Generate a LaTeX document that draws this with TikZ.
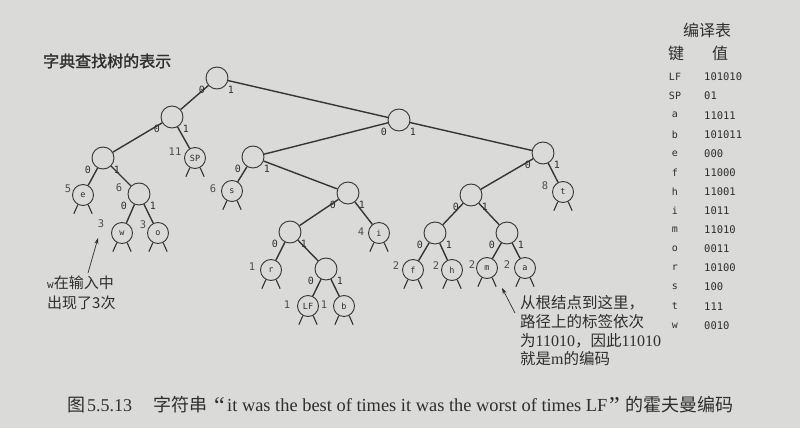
\documentclass[tikz,border=0pt]{standalone}
\usepackage{fontspec}
\setmainfont{Liberation Serif}
\newfontfamily\cjk{Noto Sans CJK SC}
\newfontfamily\cjkb[FakeBold=1.5]{Noto Sans CJK SC}
\newfontfamily\mono{DejaVu Sans Mono}
\usetikzlibrary{arrows.meta}
\definecolor{bg}{HTML}{DADAD8}
\definecolor{ink}{HTML}{353535}
\definecolor{txt}{HTML}{2E2E2E}
\begin{document}
\begin{tikzpicture}[x=1pt,y=-1pt,
  nd/.style={circle,draw=ink,line width=0.9pt,minimum size=22pt,inner sep=0pt,fill=bg,
    font=\mono\fontsize{8.5}{9}\selectfont,text=txt},
  leafnode/.style={nd,minimum size=21pt},
  edge/.style={draw=ink,line width=1.4pt},
  leg/.style={draw=ink,line width=1.1pt},
  elab/.style={font=\mono\fontsize{10}{10}\selectfont,text=txt,inner sep=0pt},
  freq/.style={font=\mono\fontsize{10.5}{10.5}\selectfont,text=txt!85,inner sep=0pt},
  keyc/.style={font=\mono\fontsize{10}{10}\selectfont,text=txt,inner sep=0pt},
  valc/.style={font=\mono\fontsize{10.5}{10.5}\selectfont,text=txt,inner sep=0pt,anchor=west},
  note/.style={anchor=west,inner sep=0pt,text=txt},
  capc/.style={anchor=base west,inner sep=0pt,text=txt,font=\cjk\fontsize{18}{18}\selectfont},
  capl/.style={anchor=base west,inner sep=0pt,text=txt,font=\rmfamily\fontsize{18.4}{18.4}\selectfont},
  pointer/.style={draw=txt,line width=0.7pt,-{Stealth[length=6pt,width=4pt]}}]
\useasboundingbox (0,0) rectangle (800,428);
\fill[bg] (0,0) rectangle (800,428);

% title
\node[note,font=\cjkb\fontsize{16}{16}\selectfont] (title) at (43,61) {字典查找树的表示};

% tree nodes
\node[nd] (r0) at (217,78) {};
\node[nd] (n0) at (172,117) {};
\node[nd] (n00) at (103,158) {};
\node[leafnode] (sp) at (195,158) {SP};
\node[leafnode] (e) at (83,195) {e};
\node[nd] (n001) at (139,194) {};
\node[leafnode] (w) at (122,233) {w};
\node[leafnode] (o) at (158,233) {o};
\node[nd] (n1) at (399,120) {};
\node[nd] (n10) at (253,157) {};
\node[leafnode] (s) at (232,191) {s};
\node[nd] (n101) at (348,193) {};
\node[nd] (n1010) at (290,232) {};
\node[leafnode] (i) at (379,233) {i};
\node[leafnode] (rr) at (271,270) {r};
\node[nd] (n10101) at (326,269) {};
\node[leafnode] (lfn) at (308,306) {LF};
\node[leafnode] (b) at (344,306) {b};
\node[nd] (n11) at (543,153) {};
\node[leafnode] (t) at (563,192) {t};
\node[nd] (n110) at (471,195) {};
\node[nd] (n1100) at (435,233) {};
\node[nd] (n1101) at (507,233) {};
\node[leafnode] (f) at (413,270) {f};
\node[leafnode] (h) at (452,270) {h};
\node[leafnode] (m) at (487,268) {m};
\node[leafnode] (a) at (525,268) {a};

% edges
\foreach \p/\c in {r0/n0,r0/n1,n0/n00,n0/sp,n00/e,n00/n001,n001/w,n001/o,
  n1/n10,n1/n11,n10/s,n10/n101,n101/n1010,n101/i,n1010/rr,n1010/n10101,
  n10101/lfn,n10101/b,n11/n110,n11/t,n110/n1100,n110/n1101,n1100/f,n1100/h,
  n1101/m,n1101/a}
  \draw[edge] (\p) -- (\c);

% null links of leaves
\foreach \n in {sp,e,w,o,s,i,rr,lfn,b,t,f,h,m,a}{
  \draw[leg] (\n.-118) -- ++(-4,9);
  \draw[leg] (\n.-62) -- ++(4,9);
}

% edge labels
\foreach \n in {r0,n0,n00,n001,n1,n10,n101,n1010,n10101,n11,n110,n1100,n1101}{
  \node[elab] at ([shift={(-15,12)}]\n.center) {0};
  \node[elab] at ([shift={(14,12)}]\n.center) {1};
}

% frequencies
\foreach \x/\y/\v in {68/189/5,119/188/6,101/224/3,143/225/3,175/152/11,213/189/6,
  361/232/4,252/267/1,287/305/1,324/305/1,396/266/2,436/266/2,472/265/2,507/265/2,545/186/8}
  \node[freq] at (\x,\y) {\v};

% table
\node[font=\cjk\fontsize{16}{16}\selectfont,text=txt] (ttl) at (707,30) {编译表};
\node[font=\cjk\fontsize{16}{16}\selectfont,text=txt] (tkey) at (676,53) {键};
\node[font=\cjk\fontsize{16}{16}\selectfont,text=txt] (tval) at (720,53) {值};
\foreach \k/\v [count=\j from 0] in {LF/101010,SP/01,a/11011,b/101011,e/000,f/11000,
  h/11001,i/1011,m/11010,o/0011,r/10100,s/100,t/111,w/0010}{
  \node[keyc] at (675,{77+19.1*\j}) {\k};
  \node[valc] at (704,{77+19.1*\j}) {\v};
}

% left note
\node[note,font=\cjk\fontsize{15}{15}\selectfont] (wn1) at (47,283) {{\mono\fontsize{11}{11}\selectfont w}在输入中};
\node[note,font=\cjk\fontsize{15}{15}\selectfont] (wn2) at (47,303) {出现了3次};
\coordinate (wfrom) at (88,273);
\coordinate (wto) at (98,238);
\draw[pointer] (wfrom) -- (wto);

% right note
\node[note,font=\cjk\fontsize{15.5}{15.5}\selectfont] (mn1) at (520,303) {从根结点到这里，};
\node[note,font=\cjk\fontsize{15.5}{15.5}\selectfont] (mn2) at (520,322) {路径上的标签依次};
\node[note,font=\cjk\fontsize{15.5}{15.5}\selectfont] (mn3) at (520,341) {为{\rmfamily\fontsize{16}{16}\selectfont 11010}，因此{\rmfamily\fontsize{16}{16}\selectfont 11010}};
\node[note,font=\cjk\fontsize{15.5}{15.5}\selectfont] (mn4) at (520,359) {就是{\rmfamily\fontsize{16}{16}\selectfont m}的编码};
\coordinate (mfrom) at (515,313);
\coordinate (mto) at (502,288);
\draw[pointer] (mfrom) -- (mto);

% caption
\node[capc] (cap1) at (67,411) {图};
\node[capl,font=\rmfamily\fontsize{18}{18}\selectfont] (cap2) at (87,411) {5.5.13};
\node[capc] (cap3) at (153,411) {字符串};
\node[capl,font=\rmfamily\fontsize{24}{24}\selectfont] (cap4) at (214,413) {“};
\node[capl] (cap5) at (227,411) {it was the best of times it was the worst of times LF};
\node[capl,font=\rmfamily\fontsize{24}{24}\selectfont] (cap6) at (609,413) {”};
\node[capc] (cap7) at (625,411) {的霍夫曼编码};
\end{tikzpicture}
\end{document}
